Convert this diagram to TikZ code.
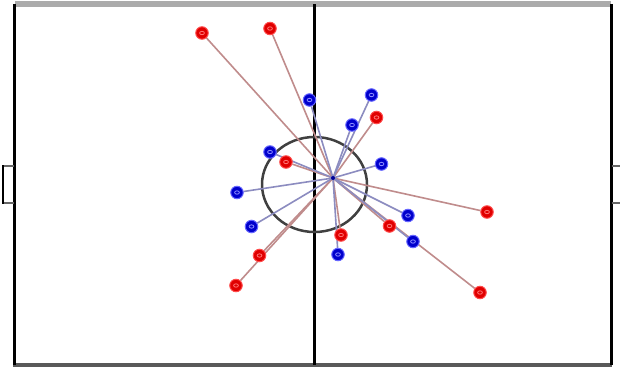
\documentclass[tikz,border=0pt]{standalone}
\pgfdeclarelayer{background}
\pgfsetlayers{background,main}
\begin{document}
\begin{tikzpicture}[x=1pt,y=-1pt,
  fieldline/.style={line width=3pt,black},
  rnode/.style={circle,fill=red!88!black,draw=red!70!white,line width=1pt,inner sep=0pt,minimum size=12.5pt,
    path picture={\draw[red!55!white,line width=0.8pt] (path picture bounding box.center) ellipse (2.4pt and 1.7pt);}},
  bnode/.style={circle,fill=blue!80!black,draw=blue!60!white,line width=1pt,inner sep=0pt,minimum size=12.5pt,
    path picture={\draw[blue!45!white,line width=0.8pt] (path picture bounding box.center) ellipse (2.4pt and 1.7pt);}},
  rlink/.style={draw=red!45!black!45!white,line width=1.6pt},
  blink/.style={draw=blue!45!black!45!white,line width=1.6pt}]
\begin{pgfonlayer}{background}
\useasboundingbox (0,0) rectangle (620,367);
\fill[white] (0,0) rectangle (620,367);
% field
\fill[black!33] (15,1) rectangle (611,6.5);
\fill[black!65] (13,363) rectangle (612,367);
\draw[fieldline] (14.5,4) -- (14.5,365);
\draw[fieldline] (611.5,4) -- (611.5,365);
\draw[fieldline] (314.5,4) -- (314.5,365);
% goals
\draw[black!60,line width=2pt] (14,166) -- (3,166) (3,203) -- (14,203);
\draw[black,line width=2.5pt] (3,165) -- (3,204);
\draw[black!60,line width=2pt] (612,166) -- (620,166) (612,203) -- (620,203);
% centre circle
\draw[black!75,line width=2.5pt] (314.5,184.5) ellipse (52.5pt and 47.5pt);
\end{pgfonlayer}
\coordinate (hub) at (333,178);
% players
\node[rnode] (r1) at (202,33) {};
\node[rnode] (r2) at (270,28.5) {};
\node[rnode] (r3) at (376.5,117.5) {};
\node[rnode] (r4) at (286,162) {};
\node[rnode] (r5) at (487,212) {};
\node[rnode] (r6) at (389.5,226) {};
\node[rnode] (r7) at (341,235) {};
\node[rnode] (r8) at (259.5,255.5) {};
\node[rnode] (r9) at (236,285.5) {};
\node[rnode] (r10) at (480,292.5) {};
\node[bnode] (b1) at (309.5,100) {};
\node[bnode] (b2) at (371.5,95) {};
\node[bnode] (b3) at (352,125) {};
\node[bnode] (b4) at (270,152) {};
\node[bnode] (b5) at (381.5,164) {};
\node[bnode] (b6) at (237,192.5) {};
\node[bnode] (b7) at (251.5,226.5) {};
\node[bnode] (b8) at (408,215.5) {};
\node[bnode] (b9) at (413,241.5) {};
\node[bnode] (b10) at (338,254.5) {};
% links
\begin{pgfonlayer}{background}
\foreach \n in {r1,r2,r3,r4,r5,r6,r7,r8,r9,r10} {\path[rlink] (hub) -- (\n);}
\foreach \n in {b1,b2,b3,b4,b5,b6,b7,b8,b9,b10} {\path[blink] (hub) -- (\n);}
\end{pgfonlayer}
\fill[blue!60!black] (hub) circle (2pt);
\end{tikzpicture}
\end{document}
